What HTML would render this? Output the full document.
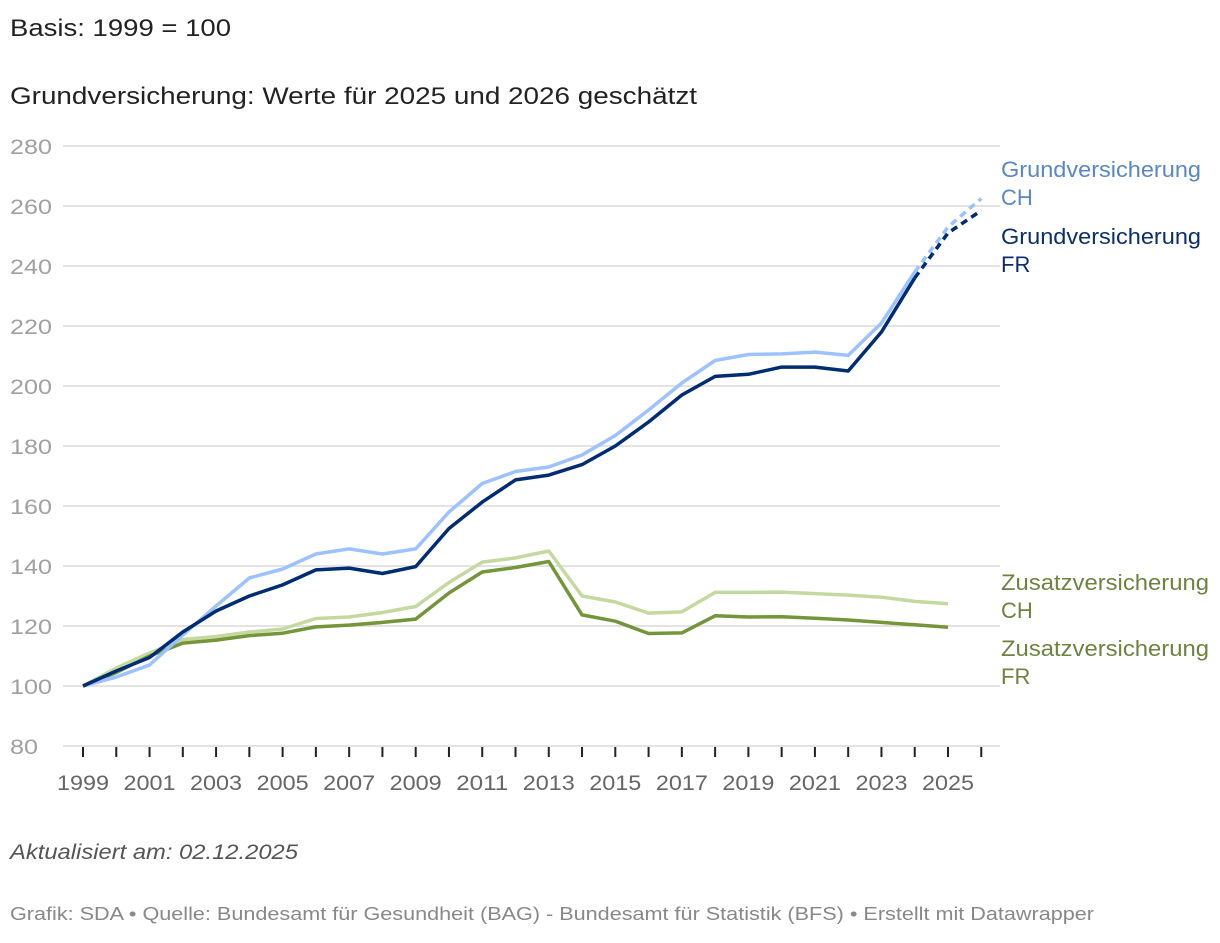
<!DOCTYPE html>
<html><head><meta charset="utf-8"><style>
body{margin:0;background:#fff;font-family:"Liberation Sans",sans-serif;}
svg text{font-family:"Liberation Sans",sans-serif;}
</style></head><body>
<svg width="1220" height="938">
<text x="10" y="36" font-size="24" fill="#222" textLength="221" lengthAdjust="spacingAndGlyphs">Basis: 1999 = 100</text>
<text x="10" y="104" font-size="24" fill="#222" textLength="687" lengthAdjust="spacingAndGlyphs">Grundversicherung: Werte für 2025 und 2026 geschätzt</text>
<g id="grid"></g><g id="lines"></g><g id="labels"></g>
<text x="10" y="859" font-size="21" font-style="italic" fill="#555" textLength="288" lengthAdjust="spacingAndGlyphs">Aktualisiert am: 02.12.2025</text>
<text x="10" y="920" font-size="18" fill="#888" textLength="1084" lengthAdjust="spacingAndGlyphs">Grafik: SDA • Quelle: Bundesamt für Gesundheit (BAG) - Bundesamt für Statistik (BFS) • Erstellt mit Datawrapper</text>
</svg>
<script>
const years=[1999,2000,2001,2002,2003,2004,2005,2006,2007,2008,2009,2010,2011,2012,2013,2014,2015,2016,2017,2018,2019,2020,2021,2022,2023,2024,2025,2026];
const grundCH=[100,103,107,117,126.7,136,139,144,145.7,144,145.7,158,167.5,171.5,173,177,183.5,192,201,208.5,210.5,210.7,211.3,210.2,221,238,253,262.5];
const grundFR=[100,105,109.5,118,125,130,133.7,138.7,139.3,137.5,139.8,152.5,161.3,168.7,170.3,173.8,180,188,197,203.2,203.9,206.3,206.3,205,218,236,251,258.5];
const zusatzCH=[100,106,111,115.5,116.5,118,119,122.5,123,124.5,126.5,134.5,141.3,142.7,145,130,128,124.3,124.7,131.2,131.2,131.3,130.8,130.3,129.6,128.2,127.4];
const zusatzFR=[100,104.5,110,114.3,115.3,116.8,117.6,119.7,120.3,121.2,122.3,131,138,139.5,141.5,123.7,121.6,117.5,117.7,123.4,123,123.1,122.6,122,121.2,120.4,119.6];
const yTicks=[80,100,120,140,160,180,200,220,240,260,280];
const xLabels=[1999,2001,2003,2005,2007,2009,2011,2013,2015,2017,2019,2021,2023,2025];
const NS="http://www.w3.org/2000/svg";
const X=y=>83+(y-1999)*(948-83)/26;
const Y=v=>686-(v-100)*3;
function mk(tag,attrs,parent){const e=document.createElementNS(NS,tag);for(const k in attrs)e.setAttribute(k,attrs[k]);parent.appendChild(e);return e;}
const grid=document.getElementById('grid'),lines=document.getElementById('lines'),labels=document.getElementById('labels');
yTicks.forEach(t=>{
 const l=mk('line',{x1:63,x2:1000,y1:Y(t),y2:Y(t),stroke:'#e3e3e3','stroke-width':2},grid);
 
 
 const tx=mk('text',{x:10,y:Y(t)+8,'font-size':21,fill:'#a0a0a0',textLength:(String(t).length*14),lengthAdjust:'spacingAndGlyphs'},grid);tx.textContent=t;
 
 
});
years.forEach(yr=>{
 const l=mk('line',{x1:X(yr),x2:X(yr),y1:Y(80)+1,y2:Y(80)+11,stroke:'#222','stroke-width':2},grid);
 
 
});
xLabels.forEach(yr=>{
 const t=mk('text',{x:X(yr),y:790,'font-size':21,fill:'#666','text-anchor':'middle',textLength:52,lengthAdjust:'spacingAndGlyphs'},grid);t.textContent=yr;
 
 
});
function pts(arr,a,b){let s=[];for(let i=a;i<=b&&i<arr.length;i++)s.push(X(years[i])+','+Y(arr[i]));return s.join(' ');}
function series(arr,color,name,dashFrom){
 const end=dashFrom||arr.length-1;
 const p=mk('polyline',{points:pts(arr,0,end),fill:'none',stroke:color,'stroke-width':3.5,'stroke-linejoin':'round'},lines);
 
 
 if(dashFrom){
  const d=mk('polyline',{points:pts(arr,dashFrom,arr.length-1),fill:'none',stroke:color,'stroke-width':3.5,'stroke-dasharray':'7 5'},lines);
  
  
 }
}
series(zusatzCH,'#c3d9a0','zusatz-ch');
series(zusatzFR,'#74953a','zusatz-fr');
series(grundCH,'#9cc2ff','grund-ch',25);
series(grundFR,'#002c73','grund-fr',25);
function lab(txt1,txt2,y,color,name,w){
 const t=mk('text',{x:1001,y:y,'font-size':22,fill:color},labels);
 
 
 const a=mk('tspan',{x:1001,textLength:w,lengthAdjust:'spacingAndGlyphs'},t);a.textContent=txt1;
 const b=mk('tspan',{x:1001,dy:28},t);b.textContent=txt2;
}
lab('Grundversicherung','CH',177,'#5b86c6','label-grund-ch',200);
lab('Grundversicherung','FR',244,'#0b2e6e','label-grund-fr',200);
lab('Zusatzversicherung','CH',590,'#6f8240','label-zusatz-ch',208);
lab('Zusatzversicherung','FR',656,'#6f8240','label-zusatz-fr',208);
</script>
</body></html>
